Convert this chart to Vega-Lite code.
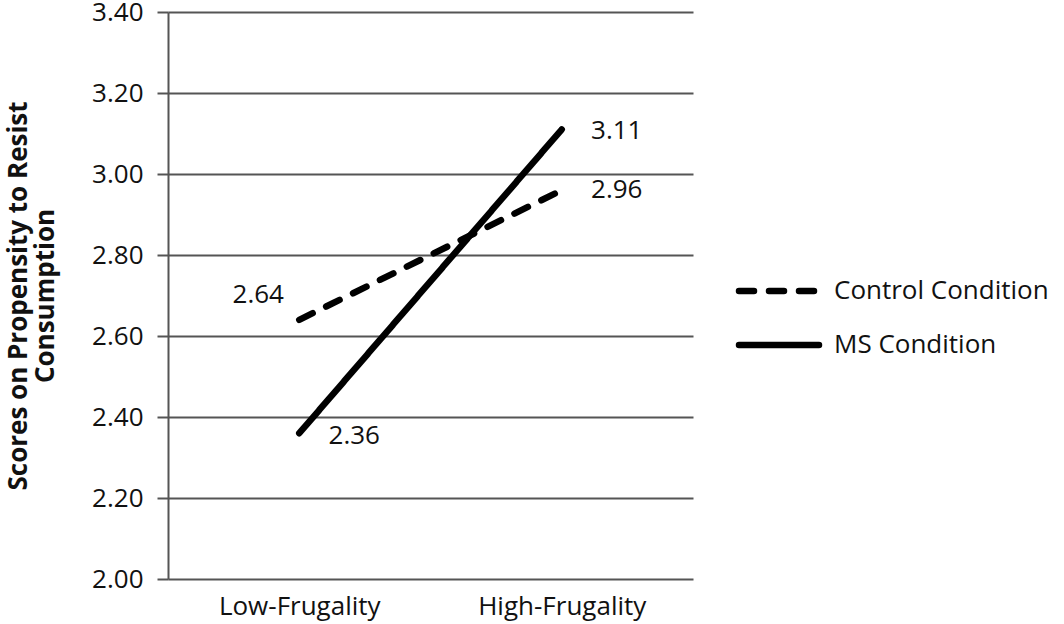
{
  "$schema": "https://vega.github.io/schema/vega-lite/v6.json",
  "width": 525,
  "height": 567,
  "autosize": {"type": "none"},
  "padding": {"left": 168, "top": 12, "right": 371, "bottom": 45},
  "background": "white",
  "config": {
    "font": "Open Sans",
    "view": {"stroke": null},
    "axis": {"labelFont": "Open Sans", "titleFont": "Open Sans"}
  },
  "data": {
    "values": [
      {"frugality": "Low-Frugality", "condition": "Control Condition", "score": 2.64},
      {"frugality": "High-Frugality", "condition": "Control Condition", "score": 2.96},
      {"frugality": "Low-Frugality", "condition": "MS Condition", "score": 2.36},
      {"frugality": "High-Frugality", "condition": "MS Condition", "score": 3.11}
    ]
  },
  "encoding": {
    "x": {
      "field": "frugality",
      "type": "nominal",
      "sort": ["Low-Frugality", "High-Frugality"],
      "scale": {"type": "point", "padding": 0.5},
      "axis": {
        "title": null,
        "domain": false,
        "ticks": false,
        "grid": false,
        "labelAngle": 0,
        "labelFontSize": 26,
        "labelColor": "#111111",
        "labelPadding": 14
      }
    },
    "y": {
      "field": "score",
      "type": "quantitative",
      "scale": {"domain": [2.0, 3.4], "nice": false, "zero": false},
      "axis": {
        "values": [2.0, 2.2, 2.4, 2.6, 2.8, 3.0, 3.2, 3.4],
        "format": ".2f",
        "title": ["Scores on Propensity to Resist", "Consumption"],
        "titleFontSize": 26,
        "titleFontWeight": "bold",
        "titleColor": "#111111",
        "titlePadding": 33,
        "titleLineHeight": 27,
        "labelFontSize": 26,
        "labelColor": "#111111",
        "labelPadding": 14,
        "tickSize": 11,
        "tickWidth": 2,
        "tickColor": "#555555",
        "domainColor": "#555555",
        "domainWidth": 2,
        "grid": true,
        "gridColor": "#555555",
        "gridWidth": 2
      }
    }
  },
  "layer": [
    {
      "mark": {"type": "line", "color": "black", "strokeWidth": 6.5, "strokeCap": "round"},
      "encoding": {
        "strokeDash": {
          "field": "condition",
          "type": "nominal",
          "scale": {
            "domain": ["Control Condition", "MS Condition"],
            "range": [[15, 15], [1, 0]]
          },
          "legend": {
            "title": null,
            "orient": "none",
            "legendX": 598,
            "legendY": 266,
            "symbolType": "M-8,0H8",
            "symbolSize": 100,
            "symbolStrokeWidth": 6.5,
            "symbolStrokeColor": "black",
            "labelFontSize": 26,
            "labelColor": "#111111",
            "labelOffset": 42,
            "labelLimit": 400,
            "rowPadding": 28,
            "labelFont": "Open Sans",
            "encode": {"symbols": {"update": {"strokeCap": {"value": "round"}}}}
          }
        }
      }
    },
    {
      "transform": [{"filter": "datum.condition == 'Control Condition' && datum.frugality == 'Low-Frugality'"}],
      "mark": {"type": "text", "fontSize": 26, "color": "#111111", "dx": -41, "dy": -25},
      "encoding": {"text": {"field": "score", "type": "quantitative", "format": ".2f"}}
    },
    {
      "transform": [{"filter": "datum.condition == 'MS Condition' && datum.frugality == 'Low-Frugality'"}],
      "mark": {"type": "text", "fontSize": 26, "color": "#111111", "dx": 55, "dy": 3},
      "encoding": {"text": {"field": "score", "type": "quantitative", "format": ".2f"}}
    },
    {
      "transform": [{"filter": "datum.frugality == 'High-Frugality' && datum.condition == 'MS Condition'"}],
      "mark": {"type": "text", "fontSize": 26, "color": "#111111", "dx": 55, "dy": 2},
      "encoding": {"text": {"field": "score", "type": "quantitative", "format": ".2f"}}
    },
    {
      "transform": [{"filter": "datum.frugality == 'High-Frugality' && datum.condition == 'Control Condition'"}],
      "mark": {"type": "text", "fontSize": 26, "color": "#111111", "dx": 55, "dy": 0},
      "encoding": {"text": {"field": "score", "type": "quantitative", "format": ".2f"}}
    }
  ]
}
